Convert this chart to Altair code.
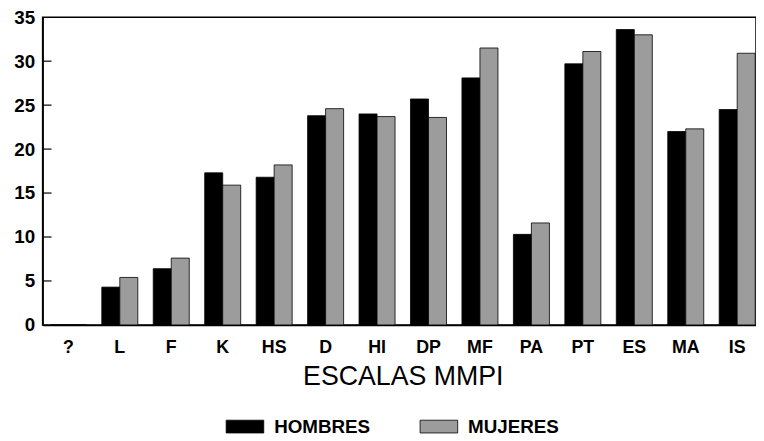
import altair as alt
import pandas as pd

categorias = ["?", "L", "F", "K", "HS", "D", "HI", "DP", "MF", "PA", "PT", "ES", "MA", "IS"]
hombres = [0, 4.3, 6.4, 17.3, 16.8, 23.8, 24.0, 25.7, 28.1, 10.3, 29.7, 33.6, 22.0, 24.5]
mujeres = [0, 5.4, 7.6, 15.9, 18.2, 24.6, 23.7, 23.6, 31.5, 11.6, 31.1, 33.0, 22.3, 30.9]
series = ["HOMBRES", "MUJERES"]
y_ticks = [0, 5, 10, 15, 20, 25, 30, 35]
inner_ticks = [5, 10, 15, 20, 25, 30]

rows = []
for c, h, m in zip(categorias, hombres, mujeres):
    rows.append({"escala": c, "grupo": "HOMBRES", "valor": h})
    rows.append({"escala": c, "grupo": "MUJERES", "valor": m})
df = pd.DataFrame(rows)
df_ticks = pd.DataFrame({"t": inner_ticks})

FONT = "Liberation Sans"

x_enc = alt.X(
    "escala:N",
    sort=categorias,
    scale=alt.Scale(paddingInner=0.3, paddingOuter=0.15, range=[0, 728]),
    axis=alt.Axis(
        title="ESCALAS MMPI",
        labelAngle=0,
        labelFont=FONT,
        labelFontSize=18,
        labelFontWeight="bold",
        labelColor="black",
        labelPadding=14,
        ticks=False,
        domainColor="black",
        domainWidth=1.5,
        titleFont=FONT,
        titleFontSize=27,
        titleFontWeight="normal",
        titleColor="black",
        titlePadding=7,
    ),
)

y_scale = alt.Scale(domain=[0, 35])

bars = alt.Chart(df).mark_bar(stroke="black", strokeWidth=0.8).encode(
    x=x_enc,
    xOffset=alt.XOffset("grupo:N", sort=series, scale=alt.Scale(paddingInner=0, paddingOuter=0)),
    y=alt.Y(
        "valor:Q",
        scale=y_scale,
        axis=alt.Axis(
            title=None,
            values=y_ticks,
            ticks=False,
            grid=False,
            labelFont=FONT,
            labelFontSize=19,
            labelFontWeight="bold",
            labelColor="black",
            labelPadding=8,
            domainColor="black",
            domainWidth=1.5,
        ),
    ),
    color=alt.Color(
        "grupo:N",
        sort=series,
        scale=alt.Scale(domain=series, range=["#000000", "#9c9c9c"]),
        legend=alt.Legend(
            title=None,
            orient="none",
            legendX=185,
            legendY=394,
            direction="horizontal",
            symbolType="M-1,-0.34H1V0.34H-1Z",
            symbolSize=1444,
            symbolStrokeColor="black",
            symbolStrokeWidth=0.8,
            symbolOpacity=1,
            labelFont=FONT,
            labelFontSize=19,
            labelFontWeight="bold",
            labelColor="black",
            labelOffset=10,
            columnPadding=47,
        ),
    ),
)

ticks = alt.Chart(df_ticks).mark_rule(color="black", strokeWidth=1.2).encode(
    y=alt.Y("t:Q", scale=y_scale),
    x=alt.value(0),
    x2=alt.value(9),
)

chart = (
    alt.layer(bars, ticks)
    .properties(
        width=721,
        height=311,
        padding={"left": 35, "top": 7, "right": 0, "bottom": 115},
        autosize=alt.AutoSizeParams(type="none"),
        background="white",
    )
    .configure_view(stroke="black", strokeWidth=1.5)
)

chart.save("out.html", embed_options={"renderer": "svg", "actions": False})
